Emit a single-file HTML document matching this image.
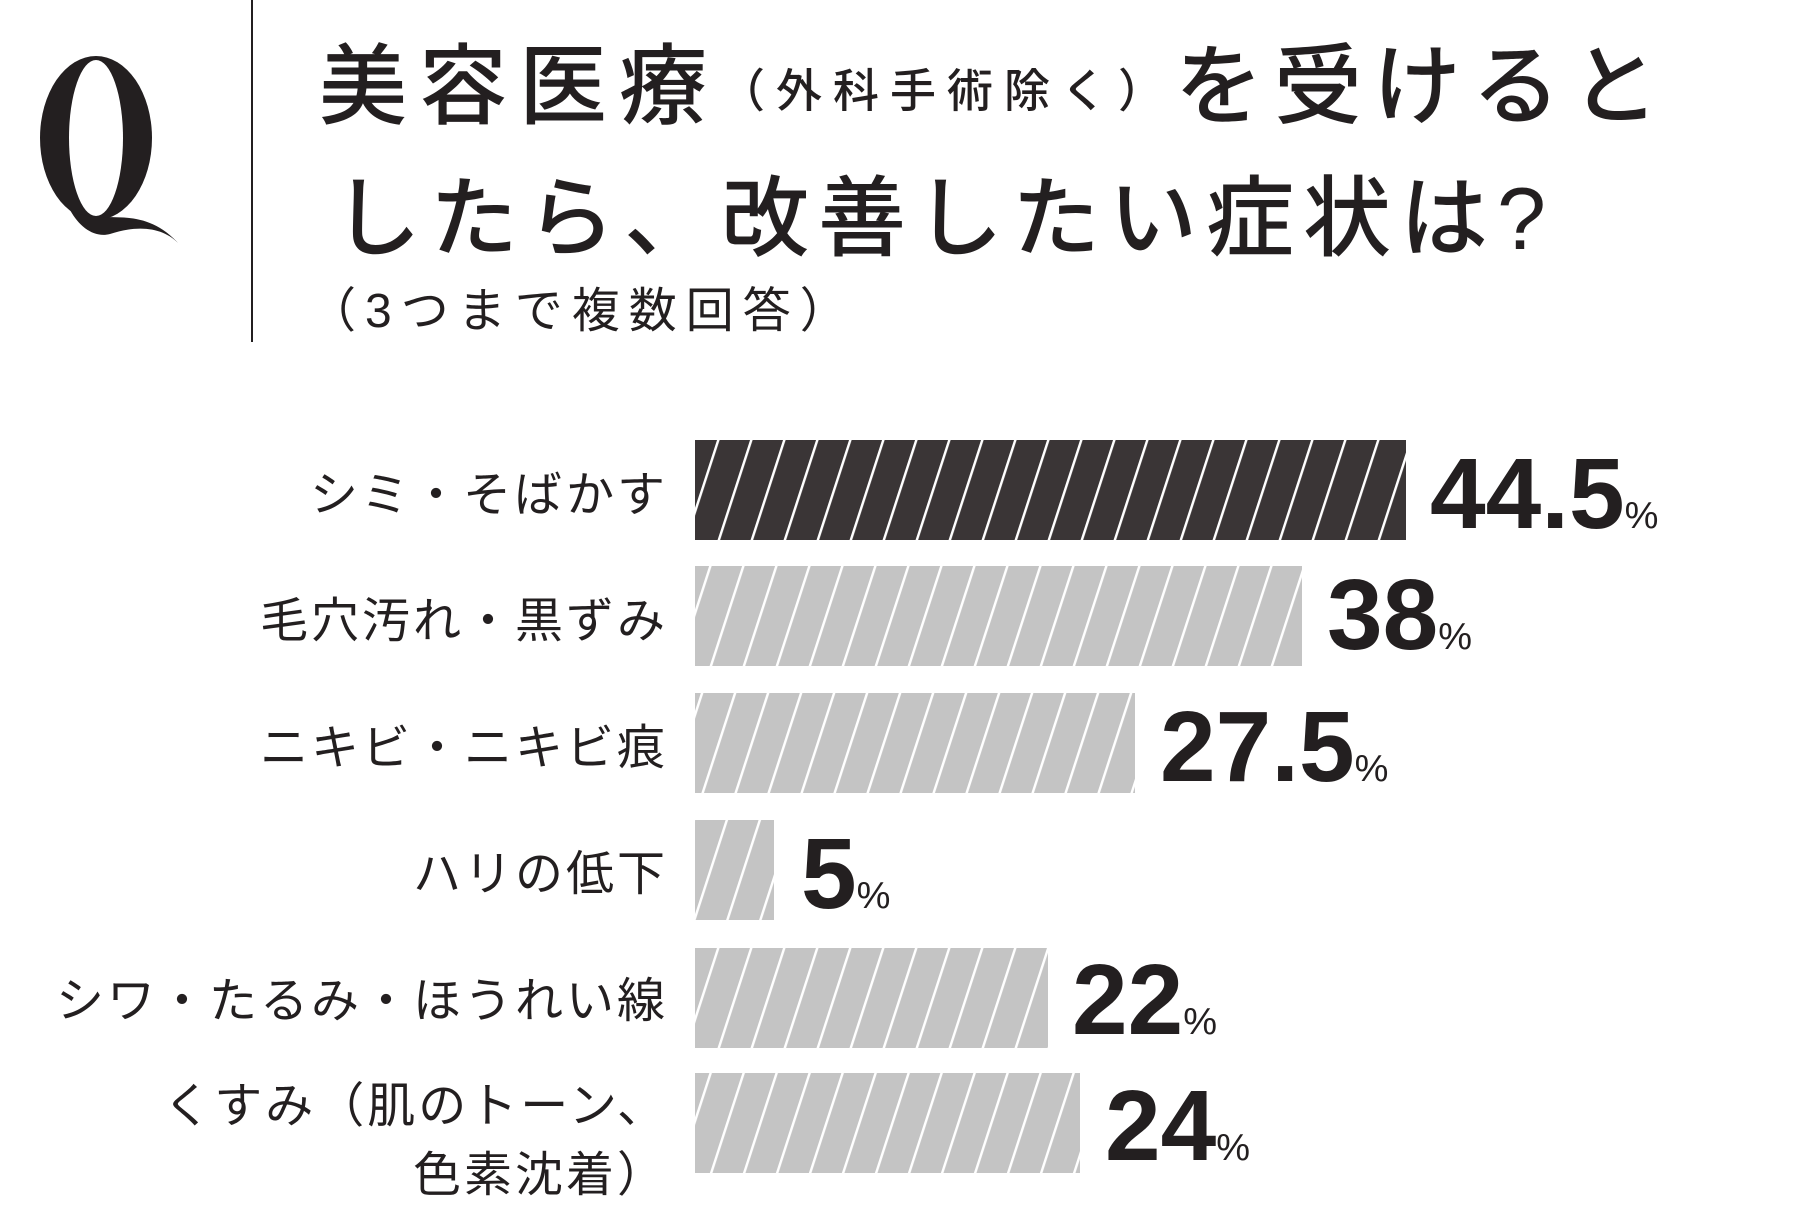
<!DOCTYPE html>
<html><head><meta charset="utf-8"><style>
html,body{margin:0;padding:0;background:#fff;}
svg{display:block;}
</style></head><body>
<svg width="1800" height="1219" viewBox="0 0 1800 1219" xmlns="http://www.w3.org/2000/svg">
<defs>
<pattern id="hd" patternUnits="userSpaceOnUse" width="33" height="20" patternTransform="translate(695,0) skewX(-18)">
<rect width="33" height="20" fill="#3a3536"/>
<rect x="0" y="0" width="2.6" height="20" fill="#fff"/>
</pattern>
<pattern id="hl" patternUnits="userSpaceOnUse" width="33" height="20" patternTransform="translate(695,0) skewX(-18)">
<rect width="33" height="20" fill="#c4c4c4"/>
<rect x="0" y="0" width="2.6" height="20" fill="#fff"/>
</pattern>
</defs>
<g fill="#231f20" font-family="'Liberation Sans','Noto Sans CJK JP',sans-serif">
<ellipse cx="96" cy="138" rx="56" ry="82" fill="#231f20"/>
<ellipse cx="96" cy="138" rx="27" ry="78" fill="#fff"/>
<path d="M70 210 C100 228 140 200 180 245 C165 228 140 224 110 234 C95 238 80 228 70 210 Z" fill="#231f20"/>
<rect x="251" y="0" width="2" height="342"/>
<text x="319" y="117" font-size="88" font-weight="500" letter-spacing="12">美容医療<tspan font-size="46" dy="-10" letter-spacing="11">（外科手術除く）</tspan><tspan dy="10" letter-spacing="11">を受けると</tspan></text>
<text x="333" y="249" font-size="88" font-weight="500" letter-spacing="9">したら、改善したい症状は?</text>
<text x="308" y="327" font-size="48" letter-spacing="9">（3つまで複数回答）</text>

<g font-size="48" text-anchor="end" letter-spacing="3">
<text x="668" y="511">シミ・そばかす</text>
<text x="668" y="637">毛穴汚れ・黒ずみ</text>
<text x="668" y="764">ニキビ・ニキビ痕</text>
<text x="668" y="890">ハリの低下</text>
<text x="668" y="1017">シワ・たるみ・ほうれい線</text>
<text x="668" y="1122">くすみ（肌のトーン、</text>
<text x="668" y="1191">色素沈着）</text>
</g>

<rect x="695" y="440" width="711" height="100" fill="url(#hd)"/>
<rect x="695" y="566" width="607" height="100" fill="url(#hl)"/>
<rect x="695" y="693" width="440" height="100" fill="url(#hl)"/>
<rect x="695" y="820" width="79" height="100" fill="url(#hl)"/>
<rect x="695" y="948" width="353" height="100" fill="url(#hl)"/>
<rect x="695" y="1073" width="385" height="100" fill="url(#hl)"/>

<g font-size="100" font-weight="bold">
<text x="1430" y="528">44.5<tspan font-size="38" font-weight="normal">%</tspan></text>
<text x="1327" y="649">38<tspan font-size="38" font-weight="normal">%</tspan></text>
<text x="1160" y="781">27.5<tspan font-size="38" font-weight="normal">%</tspan></text>
<text x="801" y="908">5<tspan font-size="38" font-weight="normal">%</tspan></text>
<text x="1072" y="1034">22<tspan font-size="38" font-weight="normal">%</tspan></text>
<text x="1105" y="1160">24<tspan font-size="38" font-weight="normal">%</tspan></text>
</g>
</g>
</svg>
</body></html>
